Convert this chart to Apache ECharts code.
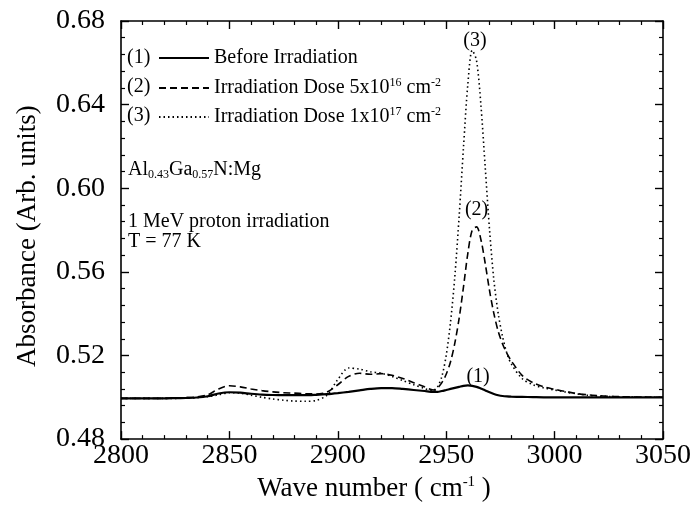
<!DOCTYPE html>
<html>
<head>
<meta charset="utf-8">
<script src="https://cdn.jsdelivr.net/npm/echarts@6/dist/echarts.min.js"></script>
<style>html,body{margin:0;padding:0;background:#fff;}#c{width:694px;height:507px;}</style>
</head>
<body>
<div id="c"></div>
<script>
const waveNumbers = [2800,2805,2810,2815,2820,2825,2830,2835,2840,2845,2850,2855,2860,2865,2870,2875,2880,2885,2890,2895,2900,2905,2910,2915,2920,2925,2930,2935,2940,
  2944,2946,2948,2950,2952,2954,2956,2958,2960,2962,2964,2966,2968,2970,2972,2974,2976,2978,2980,
  2985,2990,2995,3000,3005,3010,3015,3020,3025,3030,3035,3040,3045,3050];
const beforeIrradiation = [0.4995,0.4995,0.4995,0.4995,0.4995,0.4996,0.4997,0.4999,0.5005,0.5018,0.5024,0.5022,0.5017,0.5013,0.5011,0.5010,0.5010,0.5010,0.5012,0.5015,0.5020,0.5026,0.5033,0.5040,0.5044,0.5044,0.5040,0.5035,0.5030,
  0.5026,0.5026,0.5030,0.5035,0.5040,0.5045,0.5050,0.5055,0.5057,0.5055,0.5050,0.5042,0.5033,0.5024,0.5016,0.5010,0.5006,0.5004,0.5003,
  0.5002,0.5001,0.5000,0.5000,0.5000,0.5000,0.5000,0.5000,0.5000,0.5000,0.5000,0.5000,0.5000,0.5000];
const dose5e16 = [0.4995,0.4995,0.4995,0.4995,0.4995,0.4996,0.4998,0.5002,0.5012,0.5040,0.5055,0.5050,0.5040,0.5032,0.5026,0.5022,0.5020,0.5017,0.5016,0.5025,0.5060,0.5100,0.5115,0.5110,0.5113,0.5105,0.5090,0.5070,0.5050,
  0.5035,0.5045,0.5070,0.5110,0.5170,0.5260,0.5380,0.5530,0.5690,0.5800,0.5815,0.5755,0.5640,0.5510,0.5400,0.5315,0.5255,0.5210,0.5175,
  0.5105,0.5070,0.5050,0.5038,0.5028,0.5018,0.5012,0.5008,0.5005,0.5003,0.5002,0.5001,0.5000,0.5000];
const dose1e17 = [0.4995,0.4995,0.4995,0.4995,0.4995,0.4995,0.4996,0.4998,0.5003,0.5012,0.5022,0.5020,0.5010,0.5000,0.4992,0.4986,0.4982,0.4981,0.4985,0.5010,0.5085,0.5140,0.5135,0.5122,0.5115,0.5100,0.5080,0.5060,0.5042,
  0.5030,0.5050,0.5100,0.5200,0.5360,0.5580,0.5870,0.6200,0.6500,0.6660,0.6610,0.6400,0.6100,0.5800,0.5560,0.5400,0.5290,0.5210,0.5160,
  0.5090,0.5060,0.5045,0.5035,0.5025,0.5017,0.5010,0.5006,0.5004,0.5002,0.5001,0.5000,0.5000,0.5000];
const seriesNames = ['Before Irradiation', 'Irradiation Dose 5x10^16 cm^-2', 'Irradiation Dose 1x10^17 cm^-2'];
const curveLabels = ['(1)', '(2)', '(3)'];
const curveLabelCoords = [[2964.7, 0.5100], [2964.0, 0.5898], [2963.3, 0.6707]];

const FONT = 'Liberation Serif';
const legendRich = {
  t: {fontSize: 20, fontFamily: FONT, color: '#000'},
  sup: {fontSize: 12, fontFamily: FONT, color: '#000', padding: [0, 0, 10, 0]}
};
const legendText = {
  'Before Irradiation': '{t|Before Irradiation}',
  'Irradiation Dose 5x10^16 cm^-2': '{t|Irradiation Dose 5x10}{sup|16}{t| cm}{sup|-2}',
  'Irradiation Dose 1x10^17 cm^-2': '{t|Irradiation Dose 1x10}{sup|17}{t| cm}{sup|-2}'
};
const rowY = [60, 89, 118];
const dashTypes = ['solid', [7, 4], [1.5, 3]];
const widths = [2.2, 1.6, 1.6];
const seriesData = [beforeIrradiation, dose5e16, dose1e17];

const chart = echarts.init(document.getElementById('c'), null, {renderer: 'canvas'});

function axisCommon() {
  return {
    type: 'value',
    axisLine: {show: true, onZero: false, lineStyle: {color: '#000', width: 1.6}},
    axisTick: {show: true, inside: true, length: 8, lineStyle: {color: '#000', width: 1.4}},
    minorTick: {show: true, splitNumber: 5, length: 4, lineStyle: {color: '#000', width: 1.2}},
    splitLine: {show: false},
    minorSplitLine: {show: false}
  };
}

const option = {
  backgroundColor: '#fff',
  animation: false,
  grid: {left: 121, right: 28, top: 21, bottom: 58, containLabel: false},
  xAxis: [
    Object.assign(axisCommon(), {
      min: 2800, max: 3050, interval: 50, position: 'bottom',
      axisLabel: {show: true, fontSize: 28, fontFamily: FONT, color: '#000', margin: 3,
        formatter: v => String(v)},
      name: 'Wave number ( cm{sup|-1} )', nameLocation: 'middle', nameGap: 29,
      nameTextStyle: {fontSize: 27, fontFamily: FONT, color: '#000', padding: [0, 36, 0, 0],
        rich: {sup: {fontSize: 15, fontFamily: FONT, color: '#000', padding: [0, 0, 12, 0]}}}
    }),
    Object.assign(axisCommon(), {
      min: 2800, max: 3050, interval: 50, position: 'top',
      axisLabel: {show: false}
    })
  ],
  yAxis: [
    Object.assign(axisCommon(), {
      min: 0.48, max: 0.68, interval: 0.04, position: 'left',
      axisLabel: {show: true, fontSize: 28, fontFamily: FONT, color: '#000', margin: 16,
        formatter: v => v.toFixed(2)},
      name: 'Absorbance (Arb. units)', nameLocation: 'middle', nameGap: 80,
      nameTextStyle: {fontSize: 27, fontFamily: FONT, color: '#000', padding: [0, 12, 0, 0]}
    }),
    Object.assign(axisCommon(), {
      min: 0.48, max: 0.68, interval: 0.04, position: 'right',
      axisLabel: {show: false}
    })
  ],
  legend: seriesNames.map((n, i) => ({
    data: [n], orient: 'vertical', left: 158, top: rowY[i] - 12, padding: 0,
    itemWidth: 50, itemHeight: 14, selectedMode: false,
    itemStyle: {opacity: 0},
    formatter: name => legendText[name],
    textStyle: {fontSize: 20, fontFamily: FONT, color: '#000', rich: legendRich}
  })),
  graphic: curveLabels.map((t, i) => ({
    type: 'text', x: 127, y: rowY[i] - 2,
    style: {text: t, fontSize: 20, fontFamily: FONT, fill: '#000', verticalAlign: 'middle'}
  })).concat([
    {type: 'text', x: 128, y: 170, style: {
      text: '{m|Al}{s|0.43}{m|Ga}{s|0.57}{m|N:Mg}', verticalAlign: 'middle',
      rich: {m: {fontSize: 20, fontFamily: FONT, fill: '#000'},
             s: {fontSize: 12, fontFamily: FONT, fill: '#000', padding: [10, 0, 0, 0]}}}},
    {type: 'text', x: 128, y: 222, style: {text: '1 MeV proton irradiation', fontSize: 20, fontFamily: FONT, fill: '#000', verticalAlign: 'middle'}},
    {type: 'text', x: 128, y: 242, style: {text: 'T = 77 K', fontSize: 20, fontFamily: FONT, fill: '#000', verticalAlign: 'middle'}}
  ]),
  series: seriesNames.map((n, i) => ({
    name: n, type: 'line', xAxisIndex: 0, yAxisIndex: 0,
    data: waveNumbers.map((x, k) => [x, seriesData[i][k]]),
    symbol: 'none', smooth: 0.3,
    lineStyle: {color: '#000', width: widths[i], type: dashTypes[i]},
    itemStyle: {color: '#000'},
    markPoint: {
      symbol: 'circle', symbolSize: 1, itemStyle: {color: 'rgba(0,0,0,0)'},
      label: {show: true, position: 'inside', formatter: curveLabels[i], color: '#000', fontSize: 20, fontFamily: FONT},
      data: [{coord: curveLabelCoords[i]}]
    }
  }))
};
chart.setOption(option);
</script>
</body>
</html>
